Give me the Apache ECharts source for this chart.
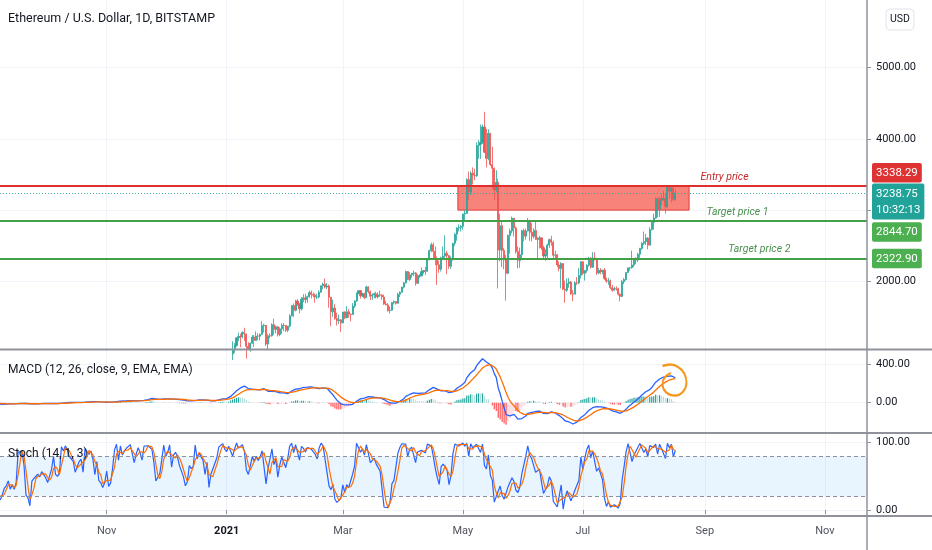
<!DOCTYPE html>
<html>
<head>
<meta charset="utf-8">
<title>Ethereum / U.S. Dollar, 1D, BITSTAMP</title>
<script src="https://cdn.jsdelivr.net/npm/echarts@6/dist/echarts.min.js"></script>
<style>
html,body{margin:0;padding:0;background:#ffffff;}
#chart{width:932px;height:550px;}
</style>
</head>
<body>
<div id="chart"></div>
<script>
// ================= DATA =================
const firstDay = Date.UTC(2020, 7, 20); // first daily candle: 2020-08-20, one candle per day
const opens = [
 406,416,389,395,391,408,383,386,382,395,399,428,
 435,477,440,385,388,335,353,352,337,351,368,374,387,365,377,365,365,389,384,385,371,341,344,320,349,352,354,357,354,360,
 359,353,346,346,352,354,341,341,351,366,370,375,387,381,379,377,368,369,377,379,368,392,414,410,413,406,393,404,388,386,382,
 386,396,383,387,402,415,454,436,454,444,449,462,464,475,461,447,460,480,478,471,509,550,560,608,603,568,518,517,538,575,
 615,588,598,616,570,595,601,591,573,573,560,546,568,590,586,589,636,642,654,658,638,608,634,584,612,626,636,683,731,731,751,
 737,730,775,979,1040,1100,1207,1225,1224,1281,1262,1088,1050,1130,1218,1171,1233,1229,1256,1377,1383,1119,1235,1233,1392,1325,1363,1253,1333,1383,1381,
 1314,1371,1515,1660,1593,1724,1677,1614,1750,1769,1743,1785,1842,1814,1806,1780,1781,1847,1937,1960,1919,1935,1777,1572,1625,1477,1446,1459,
 1417,1570,1488,1573,1540,1535,1654,1724,1835,1869,1797,1826,1771,1922,1855,1792,1808,1824,1781,1810,1806,1780,1681,1669,1588,1595,1702,1716,1691,1819,1847,
 1919,1977,2137,2025,2092,2110,2118,1972,2073,2077,2136,2150,2140,2300,2432,2514,2422,2315,2233,2170,2331,2355,2395,2361,2211,2308,2535,2662,2750,2757,
 2774,2945,2952,3431,3253,3520,3490,3483,3908,3923,3953,4167,3812,3725,4079,3641,3586,3281,3392,2439,2782,2434,2300,2114,2643,2706,2887,2748,2419,2292,2375,
 2712,2634,2707,2856,2689,2631,2715,2589,2597,2610,2472,2355,2373,2509,2586,2548,2366,2372,2229,2179,2250,1890,1875,1968,1990,1827,1820,1979,1978,2085,
 2274,2112,2151,2226,2323,2199,2325,2317,2117,2150,2139,2157,2039,2003,2007,1912,1874,1899,1895,1819,1788,1995,2026,2123,2189,2191,2230,2300,2300,2381,2462,
 2535,2557,2608,2508,2725,2827,2890,3158,3013,3163,3142,3164,3049,3322,3265,3310,3150
];
const highs = [
 418,420,398,398,410,410,392,393,398,405,430,440,
 479,488,445,402,392,357,355,354,355,372,377,389,388,380,380,369,392,394,391,386,376,347,348,351,355,358,360,362,362,364,
 362,360,350,354,358,355,345,353,368,375,377,393,392,383,382,380,372,378,383,381,397,420,417,418,414,408,410,407,394,389,392,
 398,399,390,405,420,456,458,457,460,456,470,475,478,476,463,464,488,492,485,513,555,566,615,621,608,575,535,546,577,619,
 619,600,621,621,598,606,606,595,585,575,562,570,597,592,597,640,677,662,666,660,640,638,637,618,628,648,717,742,736,754,755,
 749,787,1010,1158,1134,1210,1280,1264,1300,1348,1263,1145,1140,1245,1246,1297,1272,1265,1440,1405,1387,1260,1271,1410,1476,1380,1374,1355,1408,1414,1382,
 1375,1540,1665,1690,1740,1750,1700,1780,1820,1825,1800,1870,1870,1842,1830,1825,1875,1940,1980,2040,1975,1955,1780,1745,1680,1560,1530,1470,
 1570,1580,1650,1610,1548,1695,1735,1840,1870,1880,1840,1840,1940,1930,1870,1830,1840,1855,1845,1870,1820,1815,1725,1695,1645,1705,1732,1720,1840,1860,1925,
 1990,2150,2145,2130,2120,2150,2130,2100,2100,2195,2160,2205,2310,2445,2545,2545,2490,2350,2290,2345,2490,2645,2430,2370,2350,2540,2675,2758,2800,2790,
 2950,3000,3445,3540,3545,3600,3580,3950,3985,4200,4200,4380,4140,4135,4080,3890,3600,3560,3440,2950,2830,2470,2370,2660,2740,2910,2890,2770,2490,2475,2720,
 2740,2740,2890,2860,2815,2745,2840,2620,2640,2620,2500,2450,2530,2600,2640,2570,2430,2385,2280,2270,2250,2010,2040,2045,2005,1880,2000,2060,2185,2285,
 2285,2160,2240,2345,2340,2410,2410,2330,2190,2185,2160,2185,2050,2050,2025,1950,1925,1930,1910,1830,2020,2045,2130,2195,2200,2430,2320,2340,2400,2470,2550,
 2700,2665,2620,2760,2845,2950,3180,3185,3180,3230,3270,3240,3330,3330,3330,3335,3290
];
const lows = [
 400,385,378,384,388,376,378,371,380,390,398,420,
 430,432,378,372,310,332,340,326,334,348,362,371,356,362,360,355,362,380,380,365,333,334,315,318,340,345,347,350,350,353,
 349,335,342,345,350,338,336,339,347,363,369,372,376,373,374,363,366,367,373,363,365,388,402,405,400,380,391,383,375,376,378,
 380,378,373,380,397,411,432,434,433,441,446,452,455,451,440,441,455,463,460,467,509,531,546,581,560,480,500,504,531,571,
 565,570,590,560,566,590,584,556,530,550,537,545,567,575,582,588,630,636,646,626,582,605,565,578,604,621,635,682,705,722,715,
 716,715,775,895,995,1080,1158,1075,1200,1163,915,1035,1012,1126,1080,1165,1172,1170,1254,1283,1093,1040,1200,1225,1250,1270,1225,1230,1263,1300,1290,
 1287,1354,1508,1500,1580,1655,1550,1590,1705,1690,1700,1770,1760,1776,1700,1750,1760,1840,1890,1900,1890,1630,1370,1500,1460,1380,1400,1290,
 1410,1468,1480,1490,1440,1528,1625,1712,1820,1760,1780,1750,1770,1830,1737,1740,1765,1760,1760,1783,1740,1670,1665,1575,1548,1590,1675,1675,1690,1780,1840,
 1900,1970,2020,2005,2050,2075,1940,1965,2050,2070,2105,2090,2135,2300,2410,2320,2225,1950,2120,2140,2315,2330,2100,2175,2175,2290,2495,2570,2700,2700,
 2725,2860,2952,3135,3210,3360,3420,3465,3720,3720,3930,3800,3600,3700,3620,3300,3140,3250,1900,2280,2200,2170,1730,2100,2390,2675,2630,2390,2180,2190,2310,
 2560,2585,2700,2570,2560,2600,2580,2310,2460,2440,2320,2290,2300,2470,2500,2330,2300,2200,2140,1900,1880,1700,1850,1910,1810,1720,1820,1950,1960,2040,
 2090,2010,2120,2205,2180,2190,2290,2090,2100,2100,2100,2020,1980,1950,1890,1855,1870,1870,1800,1720,1780,1960,2010,2120,2150,2180,2200,2240,2270,2330,2440,
 2510,2510,2450,2505,2715,2725,2880,2900,2905,3060,3130,2950,3030,3160,3110,3125,3130
];
const closes = [
 416,389,395,391,408,383,386,382,395,399,428,435,
 477,440,385,388,335,353,352,337,351,368,374,387,365,377,365,365,389,384,385,371,341,344,320,349,352,354,357,354,360,359,
 353,346,346,352,354,341,341,351,366,370,375,387,381,379,377,368,369,377,379,368,392,414,410,413,406,393,404,388,386,382,386,
 396,383,387,402,415,454,436,454,444,449,462,464,475,461,447,460,480,478,471,509,550,560,608,603,568,518,517,538,575,615,
 588,598,616,570,595,601,591,573,573,560,546,568,590,586,589,636,642,654,658,638,608,634,584,612,626,636,683,731,731,751,737,
 730,775,979,1040,1100,1207,1225,1224,1281,1262,1088,1050,1130,1218,1171,1233,1229,1256,1377,1383,1119,1235,1233,1392,1325,1363,1253,1333,1383,1381,1314,
 1371,1515,1660,1593,1724,1677,1614,1750,1769,1743,1785,1842,1814,1806,1780,1781,1847,1937,1960,1919,1935,1777,1572,1625,1477,1446,1459,1417,
 1570,1488,1573,1540,1535,1654,1724,1835,1869,1797,1826,1771,1922,1855,1792,1808,1824,1781,1810,1806,1780,1681,1669,1588,1595,1702,1716,1691,1819,1847,1919,
 1977,2137,2025,2092,2110,2118,1972,2073,2077,2136,2150,2140,2300,2432,2514,2422,2315,2233,2170,2331,2355,2395,2361,2211,2308,2535,2662,2750,2757,2774,
 2945,2952,3431,3253,3520,3490,3483,3908,3923,3953,4167,3812,3725,4079,3641,3586,3281,3392,2439,2782,2434,2300,2114,2643,2706,2887,2748,2419,2292,2375,2712,
 2634,2707,2856,2689,2631,2715,2589,2597,2610,2472,2355,2373,2509,2586,2548,2366,2372,2229,2179,2250,1890,1875,1968,1990,1827,1820,1979,1978,2085,2274,
 2112,2151,2226,2323,2199,2325,2317,2117,2150,2139,2157,2039,2003,2007,1912,1874,1899,1895,1819,1788,1995,2026,2123,2189,2191,2230,2300,2300,2381,2462,2535,
 2557,2608,2508,2725,2827,2890,3158,3013,3163,3142,3164,3049,3322,3265,3310,3150,3238.75
];

// axis ticks / labels
const monthTicks = [Date.UTC(2020,10,1), Date.UTC(2021,0,1), Date.UTC(2021,2,1), Date.UTC(2021,4,1), Date.UTC(2021,6,1), Date.UTC(2021,8,1), Date.UTC(2021,10,1)];
const monthLabels = ['Nov', '2021', 'Mar', 'May', 'Jul', 'Sep', 'Nov'];
const xRange = [Date.UTC(2020,8,7,19), Date.UTC(2021,10,22,10)];
const priceTicks = [2000, 3000, 4000, 5000];
const priceLabels = [2000, 4000, 5000];
const priceRange = [1050, 5950];
const macdTicks = [0, 400];
const macdRange = [-313, 545];
const stochTicks = [0, 100];
const stochRange = [-8.9, 114.4];
const stochBand = [20, 80];

// drawings
const entryPrice = 3338.29, target1 = 2844.70, target2 = 2322.90, lastPrice = 3238.75;
const lastTimer = '10:32:13';
const zoneBox = {from: Date.UTC(2021,3,28,12), to: Date.UTC(2021,7,24), low: 3000, high: entryPrice};
const lineTexts = [
  {text: 'Entry price', price: entryPrice, date: Date.UTC(2021,8,11), color: '#C62828'},
  {text: 'Target price 1', price: target1, date: Date.UTC(2021,8,17,14), color: '#4A8F4E'},
  {text: 'Target price 2', price: target2, date: Date.UTC(2021,8,28,17), color: '#4A8F4E'}
];
const loopMark = {date: Date.UTC(2021,7,16,14), value: 234};

// ================= BUILD =================
if (!(opens.length === highs.length && highs.length === lows.length && lows.length === closes.length)) {
  throw new Error('length mismatch ' + [opens.length, highs.length, lows.length, closes.length].join(','));
}
const DAY = 86400000;
const times = closes.map((_, i) => firstDay + i * DAY);

function ema(src, n) {
  const k = 2 / (n + 1); const out = []; let e = null;
  for (let i = 0; i < src.length; i++) { const v = src[i]; e = (e === null) ? v : v * k + e * (1 - k); out.push(e); }
  return out;
}
const ema12 = ema(closes, 12), ema26 = ema(closes, 26);
const macd = closes.map((_, i) => ema12[i] - ema26[i]);
const signal = ema(macd, 9);
const hist = macd.map((m, i) => m - signal[i]);
const histData = hist.map((h, i) => {
  const prev = i > 0 ? hist[i - 1] : h;
  let c;
  if (h >= 0) c = (h > prev) ? '#26A69A' : '#B2DFDB';
  else c = (h > prev) ? '#FFCDD2' : '#FF5252';
  return {value: [times[i], h], itemStyle: {color: c}};
});
const stochK = closes.map((c, i) => {
  if (i < 13) return null;
  let hh = -Infinity, ll = Infinity;
  for (let j = i - 13; j <= i; j++) { hh = Math.max(hh, highs[j]); ll = Math.min(ll, lows[j]); }
  return 100 * (c - ll) / (hh - ll);
});
const stochD = stochK.map((k, i) => (i < 15) ? null : (stochK[i] + stochK[i - 1] + stochK[i - 2]) / 3);

const candleData = times.map((t, i) => [t, opens[i], closes[i], lows[i], highs[i]]);
const pair = (arr) => times.map((t, i) => [t, arr[i]]);

const FONT = 'Roboto, "Open Sans", sans-serif';
const TXT = '#131722';
const GRIDC = '#F0F3FA';
const AXC = '#8F929B';
const AXIS_W = 65;
const L = {mainTop: 0, mainH: 349, macdTop: 350, macdH: 83, stochTop: 433, stochH: 83};

function xAx(gi, showLabel) {
  return {
    type: 'value', gridIndex: gi, min: xRange[0], max: xRange[1],
    axisLine: {show: false},
    axisTick: {show: showLabel, length: 4, customValues: monthTicks, lineStyle: {color: AXC}},
    axisLabel: {
      show: showLabel, customValues: monthTicks, color: '#50535E', fontSize: 11, fontFamily: FONT, margin: 10,
      showMinLabel: true, showMaxLabel: true,
      formatter: function (v) {
        let best = 0;
        monthTicks.forEach((m, k) => { if (Math.abs(m - v) < Math.abs(monthTicks[best] - v)) best = k; });
        const s = monthLabels[best];
        return /^\d{4}$/.test(s) ? '{b|' + s + '}' : s;
      },
      rich: {b: {fontWeight: 'bold', color: TXT, fontSize: 11, fontFamily: FONT}}
    },
    splitLine: {show: true, lineStyle: {color: GRIDC, width: 1}}
  };
}
function yAx(gi, range, ticks, labels) {
  return {
    type: 'value', gridIndex: gi, position: 'right', min: range[0], max: range[1],
    axisLine: {show: false},
    axisTick: {show: true, length: 4, customValues: ticks, lineStyle: {color: AXC}},
    axisLabel: {customValues: labels, color: TXT, fontSize: 11, fontFamily: FONT, margin: 9,
      formatter: v => Number(v).toFixed(2), showMinLabel: true, showMaxLabel: true},
    splitLine: {show: true, lineStyle: {color: GRIDC, width: 1}}
  };
}

const chart = echarts.init(document.getElementById('chart'), null, {renderer: 'canvas'});
const option = {
  backgroundColor: '#ffffff',
  animation: false,
  grid: [
    {left: 0, right: AXIS_W, top: L.mainTop, height: L.mainH},
    {left: 0, right: AXIS_W, top: L.macdTop, height: L.macdH},
    {left: 0, right: AXIS_W, top: L.stochTop, height: L.stochH}
  ],
  xAxis: [xAx(0, false), xAx(1, false), xAx(2, true)],
  yAxis: [yAx(0, priceRange, priceTicks, priceLabels), yAx(1, macdRange, macdTicks, macdTicks), yAx(2, stochRange, stochTicks, stochTicks)],
  series: [
    {
      type: 'candlestick', name: 'ETHUSD', xAxisIndex: 0, yAxisIndex: 0,
      data: candleData, encode: {x: 0, y: [1, 2, 3, 4]},
      barWidth: 1.6, clip: true,
      itemStyle: {color: '#26A69A', color0: '#EF5350', borderColor: '#26A69A', borderColor0: '#EF5350', borderWidth: 0.8},
      markArea: {
        silent: true,
        itemStyle: {color: 'rgba(244,67,54,0.66)', borderColor: '#E53935', borderWidth: 1},
        data: [[{xAxis: zoneBox.from, yAxis: zoneBox.low}, {xAxis: zoneBox.to, yAxis: zoneBox.high}]]
      },
      markLine: {
        silent: true, symbol: ['none', 'none'], label: {show: false},
        data: [
          {yAxis: lastPrice, lineStyle: {color: '#26A69A', width: 1, type: [1, 2], opacity: 0.9}},
          {yAxis: entryPrice, lineStyle: {color: '#E02F2F', width: 2, type: 'solid'}},
          {yAxis: target1, lineStyle: {color: '#43A047', width: 2, type: 'solid'}},
          {yAxis: target2, lineStyle: {color: '#43A047', width: 2, type: 'solid'}}
        ]
      }
    },
    {
      type: 'bar', name: 'Histogram', xAxisIndex: 1, yAxisIndex: 1, data: histData, barWidth: 1.2, clip: true
    },
    {
      type: 'line', name: 'MACD', xAxisIndex: 1, yAxisIndex: 1, data: pair(macd), showSymbol: false, clip: true,
      lineStyle: {color: '#2962FF', width: 1.3}, itemStyle: {color: '#2962FF'},
      markPoint: {
        silent: true,
        symbol: 'path://M1,2 C6,0 12,0 16,3 C21,6 24,12 24,18 C24,25 19,31 13,31 C6,31 1,26 1,20 C1,15 4,11 9,9',
        symbolSize: [24, 31], symbolKeepAspect: false,
        itemStyle: {color: 'rgba(0,0,0,0)', borderColor: '#F5991E', borderWidth: 2.2},
        label: {show: false},
        data: [{coord: [loopMark.date, loopMark.value]}]
      }
    },
    {
      type: 'line', name: 'Signal', xAxisIndex: 1, yAxisIndex: 1, data: pair(signal), showSymbol: false, clip: true,
      lineStyle: {color: '#FF6D00', width: 1.3}, itemStyle: {color: '#FF6D00'}
    },
    {
      type: 'line', name: '%K', xAxisIndex: 2, yAxisIndex: 2, data: pair(stochK), showSymbol: false, clip: true,
      lineStyle: {color: '#2962FF', width: 1.2}, itemStyle: {color: '#2962FF'},
      markArea: {silent: true, itemStyle: {color: 'rgba(33,150,243,0.1)'}, data: [[{yAxis: stochBand[0]}, {yAxis: stochBand[1]}]]},
      markLine: {
        silent: true, symbol: ['none', 'none'], label: {show: false},
        lineStyle: {color: '#8E919A', width: 1, type: [4, 3]},
        data: [{yAxis: stochBand[1]}, {yAxis: stochBand[0]}]
      }
    },
    {
      type: 'line', name: '%D', xAxisIndex: 2, yAxisIndex: 2, data: pair(stochD), showSymbol: false, clip: true,
      lineStyle: {color: '#FF6D00', width: 1.2}, itemStyle: {color: '#FF6D00'}
    }
  ]
};
chart.setOption(option);

// ---------- overlay texts (positions derived from axes) ----------
const yP = v => chart.convertToPixel({yAxisIndex: 0}, v);
const xP = t => chart.convertToPixel({xAxisIndex: 0}, t);
const plotRight = xP(xRange[1]);
const W = 932, H = 550;
const g = [];
[L.mainTop + L.mainH + 0.5, L.macdTop + L.macdH, L.stochTop + L.stochH].forEach(y => {
  g.push({type: 'line', z: 150, silent: true, shape: {x1: 0, y1: y, x2: W, y2: y}, style: {stroke: AXC, lineWidth: 2}});
});
g.push({type: 'line', z: 150, silent: true, shape: {x1: plotRight, y1: 0, x2: plotRight, y2: H}, style: {stroke: AXC, lineWidth: 1.5}});
g.push({type: 'text', z: 200, silent: true, x: 8, y: 19, style: {text: 'Ethereum / U.S. Dollar, 1D, BITSTAMP', fill: TXT, font: '12.5px ' + FONT, verticalAlign: 'middle'}});
g.push({type: 'text', z: 200, silent: true, x: 8, y: L.macdTop + 20, style: {text: 'MACD (12, 26, close, 9, EMA, EMA)', fill: TXT, font: '12px ' + FONT, verticalAlign: 'middle'}});
g.push({type: 'text', z: 200, silent: true, x: 8, y: L.stochTop + 21, style: {text: 'Stoch (14, 1, 3)', fill: TXT, font: '12px ' + FONT, verticalAlign: 'middle'}});
g.push({type: 'rect', z: 200, silent: true, shape: {x: plotRight + 19, y: 9, width: 28, height: 21, r: 4}, style: {fill: '#fff', stroke: '#E0E3EB', lineWidth: 1}});
g.push({type: 'text', z: 201, silent: true, x: plotRight + 33, y: 19.5, style: {text: 'USD', fill: TXT, font: '10.5px ' + FONT, align: 'center', verticalAlign: 'middle'}});
lineTexts.forEach(lt => {
  g.push({type: 'text', z: 200, silent: true, x: xP(lt.date), y: yP(lt.price) - 9, style: {text: lt.text, fill: lt.color, font: 'italic 10.5px ' + FONT, align: 'center', verticalAlign: 'middle'}});
});
function tag(text, yTop, bg) {
  g.push({type: 'text', z: 210, silent: true, x: plotRight + 5, y: yTop,
    style: {text: text, fill: '#ffffff', font: '11.5px ' + FONT, backgroundColor: bg, padding: [2, 4, 1, 4], lineHeight: 16.5, borderRadius: 2, verticalAlign: 'top', align: 'left'}});
}
tag(entryPrice.toFixed(2), yP(entryPrice) - 23, '#DD3333');
tag(lastPrice.toFixed(2) + '\n' + lastTimer, yP(lastPrice) - 9.5, '#22A39A');
tag(target1.toFixed(2), yP(target1) + 1, '#4CAF50');
tag(target2.toFixed(2), yP(target2) - 9.5, '#4CAF50');
chart.setOption({graphic: g});
</script>
</body>
</html>
